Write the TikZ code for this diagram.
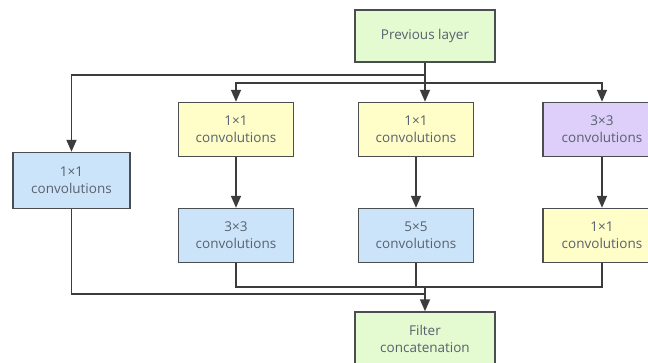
\documentclass[tikz,border=0pt]{standalone}
\usepackage{fontspec}
\setmainfont{Open Sans}
\usetikzlibrary{arrows.meta}
\definecolor{boxline}{RGB}{75,78,80}
\definecolor{txt}{RGB}{88,98,110}
\definecolor{gfill}{RGB}{228,250,208}
\definecolor{yfill}{RGB}{255,253,200}
\definecolor{bfill}{RGB}{204,228,250}
\definecolor{pfill}{RGB}{222,206,250}
\definecolor{wire}{RGB}{60,60,60}
\tikzset{
  blk/.style={draw=boxline, line width=1.5pt, align=center, text=txt,
    font=\fontsize{13.5}{17}\selectfont, inner sep=0pt},
  gbox/.style={blk, fill=gfill},
  ybox/.style={blk, fill=yfill},
  bbox/.style={blk, fill=bfill},
  pbox/.style={blk, fill=pfill},
  wireline/.style={draw=wire, line width=1.7pt},
  arr/.style={wireline, -{Triangle[length=12pt,width=10pt]}},
}
\begin{document}
\begin{tikzpicture}[x=1pt,y=-1pt]
\useasboundingbox (0,0) rectangle (648,362);
\fill[white] (0,0) rectangle (648,362);
\node[gbox, minimum width=140pt, minimum height=52pt] (prev) at (425,36) {Previous layer};
\node[bbox, minimum width=117pt, minimum height=56pt] (b1) at (71.5,180.5) {1×1\\convolutions};
\node[ybox, minimum width=115pt, minimum height=54pt] (y2) at (236,129.5) {1×1\\convolutions};
\node[ybox, minimum width=115pt, minimum height=54pt] (y3) at (416,129.5) {1×1\\convolutions};
\node[pbox, minimum width=118pt, minimum height=54pt] (p4) at (602,129.5) {3×3\\convolutions};
\node[bbox, minimum width=115pt, minimum height=54pt] (b2) at (236,235.5) {3×3\\convolutions};
\node[bbox, minimum width=115pt, minimum height=54pt] (b3) at (416,235.5) {5×5\\convolutions};
\node[ybox, minimum width=118pt, minimum height=54pt] (y5) at (602,235.5) {1×1\\convolutions};
\node[gbox, minimum width=140pt, minimum height=54pt] (fc) at (425,339) {Filter\\concatenation};
\coordinate (t1) at (425,75);
\coordinate (t2) at (425,83);
\coordinate (m1) at (425,287);
\coordinate (m2) at (425,294);
\draw[arr] (prev.south) -- (prev.south |- y3.north);
\draw[arr] (t1) -| (b1.north);
\draw[arr] (t2) -| (y2.north);
\draw[arr] (t2) -| (p4.north);
\draw[arr] (y2) -- (b2);
\draw[arr] (y3) -- (b3);
\draw[arr] (p4) -- (y5);
\draw[wireline] (b2.south) |- (m1);
\draw[wireline] (b3.south) |- (m1);
\draw[wireline] (y5.south) |- (m1);
\draw[wireline] (b1.south) |- (m2);
\draw[arr] (m1) -- (fc.north);
\end{tikzpicture}
\end{document}
